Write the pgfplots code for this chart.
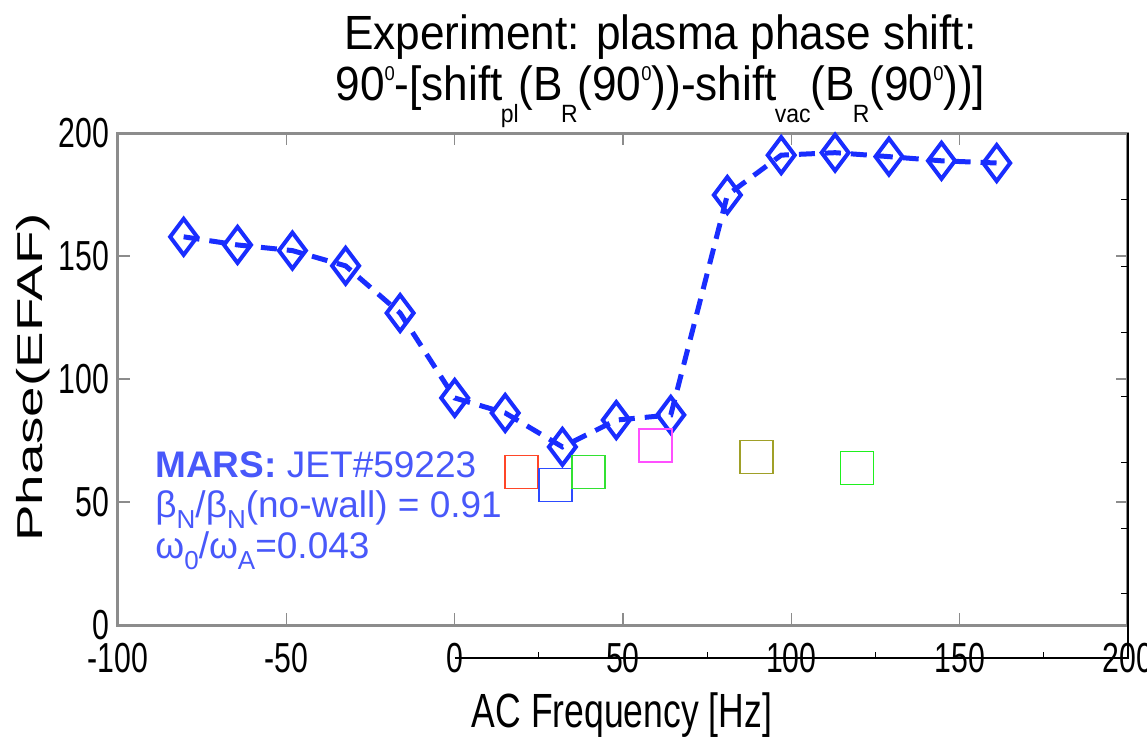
\documentclass[border=0pt]{standalone}
\usepackage{pgfplots}
\pgfplotsset{compat=1.18}
\usepackage{fontspec}
\setmainfont{Liberation Sans}
\newfontfamily\ticknarrow[FakeStretch=0.72]{Liberation Sans}
\newfontfamily\xlabfont[FakeStretch=0.74]{Liberation Sans}
\newfontfamily\ylabfont[FakeStretch=1.52]{Liberation Sans}
\newfontfamily\titlefont[FakeStretch=0.92]{Liberation Sans}
\definecolor{mainblue}{RGB}{25,45,255}
\definecolor{marsblue}{RGB}{72,88,250}
\definecolor{sqred}{RGB}{255,70,40}
\definecolor{sqblue}{RGB}{45,75,255}
\definecolor{sqgreen}{RGB}{50,225,50}
\definecolor{sqmag}{RGB}{255,80,255}
\definecolor{sqolive}{RGB}{160,160,40}
\definecolor{sqgreentwo}{RGB}{30,240,30}
\definecolor{axgray}{RGB}{140,140,140}
\newcommand\tsub[1]{\kern-0.04em\raisebox{-11pt}{\fontsize{12.5}{12.5}\selectfont #1}}
\newcommand\tsup[1]{\raisebox{10pt}{\fontsize{10}{10}\selectfont #1}}
\newcommand\msub[1]{\raisebox{-0.3em}{\fontsize{13}{13}\selectfont #1}}
\begin{document}
\begin{tikzpicture}
\begin{axis}[
  name=ax,
  scale only axis,
  width=505pt, height=246pt,
  xmin=-100, xmax=200, ymin=0, ymax=200,
  xtick={-100,-50,0,50,100,150,200},
  ytick={0,50,100,150,200},
  tick align=inside,
  major tick length=6pt,
  axis line style={axgray, line width=1.5pt},
  tick style={axgray, line width=0.8pt},
  /pgf/number format/assume math mode=true,
  tick label style={font=\ticknarrow\fontsize{21}{21}\selectfont},
  xticklabel style={yshift=-5.5pt},
  yticklabel style={xshift=-1pt},
  xlabel={AC Frequency [Hz]},
  xlabel style={font=\xlabfont\fontsize{24}{24}\selectfont, at={(axis description cs:0.499,-0.209)}, anchor=base},
  ylabel={Phase(EFAF)},
  ylabel style={font=\ylabfont\fontsize{18}{18}\selectfont, at={(axis description cs:-0.0752,0.503)}, anchor=base, rotate=0},
  clip=false,
]
\addplot[color=mainblue, line width=2.5pt, dash pattern=on 8pt off 5pt,
  mark=diamond, mark size=9pt, mark options={solid, line width=2pt}]
coordinates {
(-80.5,157.8) (-64.5,154.5) (-48.2,152.2) (-32.4,146.0) (-16.2,126.8)
(0,92.3) (15,86.2) (32,72.4) (48,83.3) (64.2,85.4)
(81,174.8) (97,191.0) (113,192.0) (129,190.4) (144.6,188.7) (161,187.8)
};
\addplot[only marks, mark=square, mark size=8.25pt, mark options={sqred, line width=0.8pt}] coordinates {(19.8,62.2)};
\addplot[only marks, mark=square, mark size=8.25pt, mark options={sqblue, line width=0.8pt}] coordinates {(29.9,56.9)};
\addplot[only marks, mark=square, mark size=8.25pt, mark options={sqgreen, line width=0.8pt}] coordinates {(39.8,62.2)};
\addplot[only marks, mark=square, mark size=8.25pt, mark options={sqmag, line width=0.8pt}] coordinates {(59.6,73.0)};
\addplot[only marks, mark=square, mark size=8.25pt, mark options={sqolive, line width=0.8pt}] coordinates {(89.6,68.3)};
\addplot[only marks, mark=square, mark size=8.25pt, mark options={sqgreentwo, line width=0.8pt}] coordinates {(119.5,63.8)};
% overlay axis lines
\draw[black, line width=0.6pt] (axis cs:0,-13.4) -- (axis cs:200,-13.4) -- (axis cs:200,200);
\draw[black, line width=0.5pt] (axis cs:25,-13.4) -- (axis cs:25,-10.8);
\draw[black, line width=0.5pt] (axis cs:75,-13.4) -- (axis cs:75,-10.8);
\draw[black, line width=0.5pt] (axis cs:125,-13.4) -- (axis cs:125,-10.8);
\draw[black, line width=0.5pt] (axis cs:175,-13.4) -- (axis cs:175,-10.8);
\draw[black, line width=0.5pt] (axis cs:200,13.0) -- (axis cs:197.9,13.0);
\draw[black, line width=0.5pt] (axis cs:200,39.4) -- (axis cs:197.9,39.4);
\draw[black, line width=0.5pt] (axis cs:200,65.9) -- (axis cs:197.9,65.9);
\draw[black, line width=0.5pt] (axis cs:200,92.7) -- (axis cs:197.9,92.7);
\draw[black, line width=0.5pt] (axis cs:200,119.1) -- (axis cs:197.9,119.1);
\draw[black, line width=0.5pt] (axis cs:200,145.9) -- (axis cs:197.9,145.9);
\draw[black, line width=0.5pt] (axis cs:200,172.8) -- (axis cs:197.9,172.8);
% title
\node[anchor=base, font=\titlefont\fontsize{24}{24}\selectfont] at (axis description cs:0.537,1.169) {Experiment: plasma phase shift:};
\node[anchor=base, font=\titlefont\fontsize{24}{24}\selectfont] at (axis description cs:0.537,1.067)
  {90\tsup{0}-[shift\tsub{pl}(B\tsub{R}(90\tsup{0}))-shift\tsub{vac}(B\tsub{R}(90\tsup{0}))]};
% MARS annotation
\node[anchor=base west, inner sep=0pt, text=marsblue, font=\fontsize{18.5}{18.5}\selectfont] at (axis cs:-89,59.8) {\textbf{MARS:} JET\#59223};
\node[anchor=base west, inner sep=0pt, text=marsblue, font=\fontsize{18.5}{18.5}\selectfont] at (axis cs:-89,43.9) {β\msub{N}/β\msub{N}(no-wall) = 0.91};
\node[anchor=base west, inner sep=0pt, text=marsblue, font=\fontsize{18.5}{18.5}\selectfont] at (axis cs:-89,27.2) {ω\msub{0}/ω\msub{A}=0.043};
\end{axis}
\pgfresetboundingbox
\path (ax.south west) ++(-59pt,-58pt) rectangle ++(573.5pt,370.5pt);
\end{tikzpicture}
\end{document}
